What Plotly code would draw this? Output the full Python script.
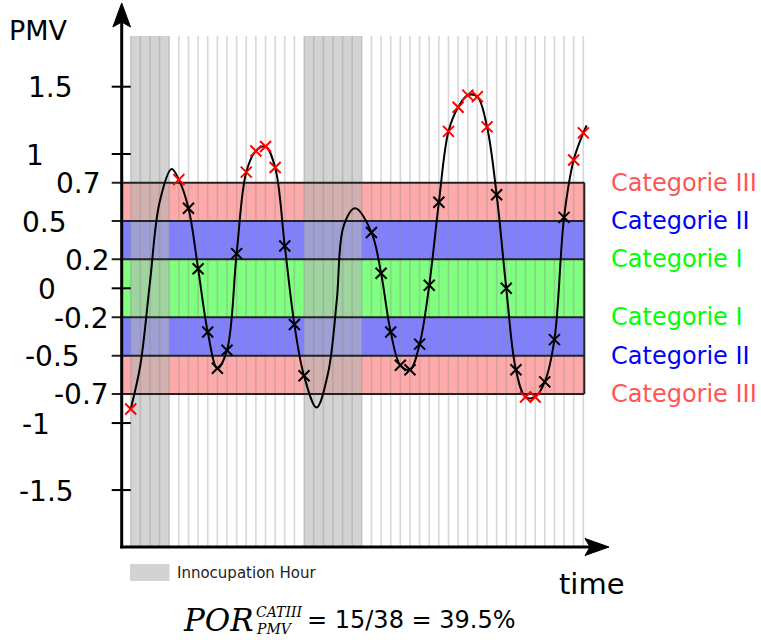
import plotly.graph_objects as go

# ---------------- data ----------------
# Occupied hours (index of the hourly grid) and PMV values, read on the chart's
# schematic vertical scale (band edges +-0.2 / +-0.5 / +-0.7 sit at their drawn heights).
HOURS = [0, 5, 6, 7, 8, 9, 10, 11, 12, 13, 14, 15, 16, 17, 18,
         25, 26, 27, 28, 29, 30, 31, 32, 33, 34, 35, 36, 37, 38, 39, 40,
         41, 42, 43, 44, 45, 46, 47]
PMV = [-0.80, 0.72, 0.53, 0.13, -0.29, -0.53, -0.41, 0.23, 0.77, 0.91, 0.94, 0.80, 0.28, -0.24, -0.58,
       0.37, 0.10, -0.29, -0.51, -0.54, -0.37, 0.02, 0.57, 1.04, 1.20, 1.28, 1.27, 1.07, 0.62, 0.00, -0.54,
       -0.72, -0.72, -0.62, -0.34, 0.47, 0.85, 1.03]

# PMV course during unoccupied hours (curve only, no sample marks)
CURVE_HOURS_EXTRA = [1.0, 2.0, 3.0, 4.25, 19.3, 20.5, 21.4, 22.1, 23.3, 47.35]
CURVE_PMV_EXTRA = [-0.51, 0.04, 0.57, 0.79, -0.79, -0.56, -0.08, 0.41, 0.53, 1.08]

N_HOURS = 47
UNOCCUPIED = [(0, 4), (18, 24)]

TICK_LABELS = ["1.5", "1", "0.7", "0.5", "0.2", "0", "-0.2", "-0.5", "-0.7", "-1", "-1.5"]
TICK_POS = [1.336, 0.890, 0.700, 0.446, 0.192, 0.0, -0.192, -0.447, -0.700, -0.893, -1.337]

BAND_EDGES = [0.700, 0.446, 0.192, -0.192, -0.447, -0.700]
BAND_COLORS = ["#ffaaaa", "#8080ff", "#80ff80", "#8080ff", "#ffaaaa"]
CAT_LABELS = ["Categorie III", "Categorie II", "Categorie I", "Categorie I", "Categorie II", "Categorie III"]
CAT_COLORS = ["#ff5555", "#0000ff", "#00ff00", "#00ff00", "#0000ff", "#ff5555"]
CAT_LIMIT = 0.7

# ---------------- geometry helpers (layout decoration only) ----------------
W, H = 761, 640
X0PX, HOUR_PX = 130.7, 9.63
Y0PX, UNIT_PX = 288.3, 150.9


def px_x(px):
    return (px - X0PX) / HOUR_PX


def px_y(py):
    return (Y0PX - py) / UNIT_PX


shapes = []
annos = []
SANS = "DejaVu Sans"
SERIF = "DejaVu Serif"

GRID_TOP = px_y(36)
AXIS_Y = px_y(547)
AXIS_X = px_x(121.7)
BAND_RIGHT = px_x(584.3)

# bands
for i, col in enumerate(BAND_COLORS):
    shapes.append(dict(type="rect", xref="x", yref="y", x0=AXIS_X, x1=BAND_RIGHT,
                       y0=BAND_EDGES[i + 1], y1=BAND_EDGES[i], fillcolor=col,
                       line=dict(width=0), layer="below"))
# unoccupied hours (grey overlay)
for a, b in UNOCCUPIED:
    shapes.append(dict(type="rect", xref="x", yref="y", x0=a, x1=b, y0=AXIS_Y, y1=GRID_TOP,
                       fillcolor="rgba(180,180,180,0.59)", line=dict(width=0), layer="below"))
# hourly lines
for h in range(N_HOURS + 1):
    shapes.append(dict(type="line", xref="x", yref="y", x0=h, x1=h, y0=AXIS_Y, y1=GRID_TOP,
                       line=dict(color="rgba(140,140,140,0.35)", width=1.6), layer="below"))
# band edges + right border
for e in BAND_EDGES:
    shapes.append(dict(type="line", xref="x", yref="y", x0=px_x(111.7), x1=BAND_RIGHT, y0=e, y1=e,
                       line=dict(color="#222222", width=2), layer="below"))
shapes.append(dict(type="line", xref="x", yref="y", x0=BAND_RIGHT, x1=BAND_RIGHT,
                   y0=BAND_EDGES[-1], y1=BAND_EDGES[0], line=dict(color="#222222", width=2), layer="below"))
# other ticks
for v in TICK_POS:
    if v not in BAND_EDGES:
        shapes.append(dict(type="line", xref="x", yref="y", x0=px_x(111.7), x1=px_x(130.7), y0=v, y1=v,
                           line=dict(color="black", width=2), layer="below"))
# axes
shapes.append(dict(type="line", xref="x", yref="y", x0=AXIS_X, x1=AXIS_X, y0=px_y(548.2), y1=px_y(20),
                   line=dict(color="black", width=3), layer="below"))
shapes.append(dict(type="line", xref="x", yref="y", x0=px_x(120.2), x1=px_x(592), y0=AXIS_Y, y1=AXIS_Y,
                   line=dict(color="black", width=3), layer="below"))


def path(pts):
    return "M " + " L ".join(f"{px_x(x)},{px_y(y)}" for x, y in pts) + " Z"


shapes.append(dict(type="path", xref="x", yref="y",
                   path=path([(121.7, 3), (130.5, 27), (121.7, 22), (112.9, 27)]),
                   fillcolor="black", line=dict(color="black", width=1), layer="below"))
shapes.append(dict(type="path", xref="x", yref="y",
                   path=path([(609, 547), (585, 538.5), (590, 547), (585, 555.5)]),
                   fillcolor="black", line=dict(color="black", width=1), layer="below"))

# legend box
shapes.append(dict(type="rect", xref="x", yref="y", x0=px_x(130), x1=px_x(169.5), y0=px_y(581), y1=px_y(564),
                   fillcolor="#d3d3d3", line=dict(width=0), layer="below"))


def text(t, xpx, ypx, size, color="black", family=SANS, xanchor="left"):
    annos.append(dict(x=px_x(xpx), y=px_y(ypx), xref="x", yref="y", text=t, showarrow=False,
                      xanchor=xanchor, yanchor="middle", borderpad=0, borderwidth=0,
                      font=dict(family=family, size=size, color=color)))


# y tick labels (hand-placed in the original)
TICK_LABEL_LEFT = [29, 27, 57, 23, 66, 39, 55, 26, 55, 23, 20]
for lab, v, lx in zip(TICK_LABELS, TICK_POS, TICK_LABEL_LEFT):
    text(lab, lx - 1, Y0PX - v * UNIT_PX + 1, 28)

text("PMV", 9, 30, 27)
text("time", 559, 584, 29)

for lab, e, c in zip(CAT_LABELS, BAND_EDGES, CAT_COLORS):
    text(lab, 611, Y0PX - e * UNIT_PX, 24, color=c)

text("Innocupation Hour", 177, 573, 15, color="#222222")

n_red = sum(1 for v in PMV if abs(v) > CAT_LIMIT)
n_all = len(PMV)
text("<i>POR</i>", 183, 620, 31, family=SERIF)
text("<i>CATIII</i>", 256, 612, 14, family=SERIF)
text("<i>PMV</i>", 256, 629, 14, family=SERIF)
text(f"= {n_red}/{n_all} = {100 * n_red / n_all:.1f}%", 307, 620, 24)

# ---------------- traces ----------------
curve = sorted(list(zip(HOURS, PMV)) + list(zip(CURVE_HOURS_EXTRA, CURVE_PMV_EXTRA)))
fig = go.Figure()
fig.add_trace(go.Scatter(x=[c[0] for c in curve], y=[c[1] for c in curve], mode="lines",
                         line=dict(color="black", width=2, shape="spline", smoothing=1.0),
                         hoverinfo="skip"))
mcolors = ["#ff0000" if abs(v) > CAT_LIMIT else "black" for v in PMV]
fig.add_trace(go.Scatter(x=HOURS, y=PMV, mode="markers",
                         marker=dict(symbol="x-thin", size=11, color=mcolors,
                                     line=dict(color=mcolors, width=2))))

fig.update_layout(
    width=W, height=H, margin=dict(l=0, r=0, t=0, b=0),
    paper_bgcolor="white", plot_bgcolor="white", showlegend=False,
    xaxis=dict(visible=False, range=[px_x(0), px_x(W)], fixedrange=True),
    yaxis=dict(visible=False, range=[px_y(H), px_y(0)], fixedrange=True),
    shapes=shapes, annotations=annos,
)
fig.write_html("out.html", config={"displayModeBar": False},
               post_script="document.body.style.margin='0px';document.body.style.overflow='hidden';")
